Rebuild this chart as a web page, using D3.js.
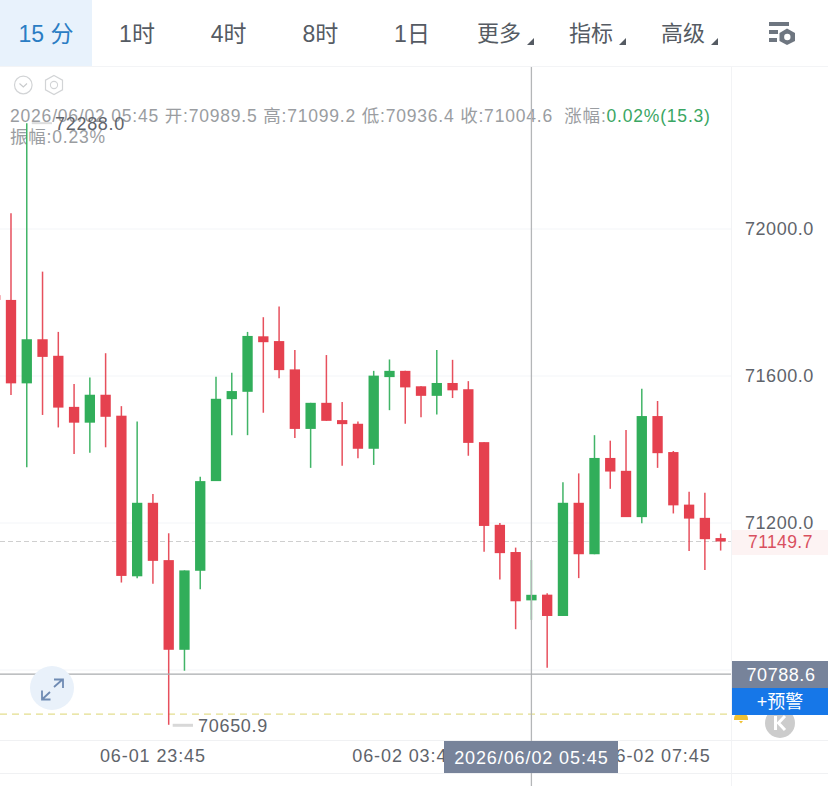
<!DOCTYPE html>
<html><head><meta charset="utf-8">
<script src="https://cdn.jsdelivr.net/npm/d3@7/dist/d3.min.js"></script>
<style>html,body{margin:0;padding:0;background:#fff;overflow:hidden}svg{display:block}
text{font-family:"Liberation Sans","Noto Sans CJK SC",sans-serif}</style></head>
<body><div id="chart"></div>
<script>
const times=["21:15","21:30","21:45","22:00","22:15","22:30","22:45","23:00","23:15","23:30","23:45","00:00","00:15","00:30","00:45","01:00","01:15","01:30","01:45","02:00","02:15","02:30","02:45","03:00","03:15","03:30","03:45","04:00","04:15","04:30","04:45","05:00","05:15","05:30","05:45","06:00","06:15","06:30","06:45","07:00","07:15","07:30","07:45","08:00","08:15","08:30","08:45"];
const opens=[71820,71807,71580,71700,71655,71516,71473,71549,71492,71055,71255,71099,70855,71070,71314,71537,71557,71708,71695,71618,71456,71527,71480,71470,71402,71597,71614,71572,71546,71581,71564,71420,71195,71121,70989.5,71005,70947,71255,71115,71377,71342,71216,71491,71393,71250,71214,71159];
const highs=[71830,72043,72288,71884,71720,71578,71596,71662,71518,71476,71279,71172,71071,71326,71598,71609,71720,71760,71789,71671,71527,71657,71529,71476,71614,71645,71614,71572,71671,71644,71586,71420,71200,71133,71099.2,71009,71311,71335,71439,71424,71453,71565,71532,71396,71285,71282,71171];
const lows=[71800,71548,71352,71494,71460,71388,71391,71406,71038,71050,71035,70650.9,70798,71020,71314,71439,71439,71500,71594,71431,71350,71478,71356,71376,71358,71507,71470,71488,71495,71540,71383,71122,71046,70911,70936.4,70806,70947,71050,71115,71293,71216,71199,71350,71226,71124,71072,71125];
const closes=[71807,71580,71700,71652,71514,71473,71549,71489,71056,71255,71097,70855,71071,71314,71538,71559,71709,71692,71616,71456,71527,71478,71469,71402,71601,71614,71569,71546,71581,71561,71418,71192,71118,70987,71004.6,70947,71255,71115,71377,71340,71216,71491,71390,71248,71212,71156,71149.7];
const yTicks=[72000,71600,71200,70800];
const xTickTimes=["23:45","03:45","07:45"];
const xTickLabels=["06-01 23:45","06-02 03:45","06-02 07:45"];
const tabs=["1时","4时","8时","1日"];
const menus=["更多","指标","高级"];
const lastPrice=71149.7, crossPrice=70788.6, alertPrice=70680, crossTime="05:45";
const maxPrice=72288.0, minPrice=70650.9, maxTime="21:45", minTime="00:00";

const W=828,H=786;
const RED="#e5414f",GREEN="#31ae5a",SLATE="#77839a",FONT_T="#555b63";
const svg=d3.select("#chart").append("svg").attr("width",W).attr("height",H);
const x=d3.scaleBand().domain(times).range([-12.66,728.53]).paddingInner(0.345).paddingOuter(0.1725);
const y=d3.scaleLinear().domain([70800,72000]).range([670,229]);
const cx=t=>x(t)+x.bandwidth()/2;
const rows=times.map((t,i)=>({t,o:opens[i],h:highs[i],l:lows[i],c:closes[i]}));

// header
svg.append("rect").attr("x",0).attr("y",0).attr("width",92).attr("height",66).attr("fill","#e8f2fc");
svg.append("line").attr("x1",0).attr("x2",W).attr("y1",66.5).attr("y2",66.5).attr("stroke","#f3f4f6");
svg.append("text").attr("x",46).attr("y",41.5).attr("text-anchor","middle").attr("font-size",23).attr("fill","#2a7dc4").text("15 分");
const tabX=d3.scalePoint().domain(tabs).range([137,412]);
svg.selectAll(".tab").data(tabs).join("text").attr("class","tab").attr("x",d=>tabX(d)).attr("y",41.5).attr("text-anchor","middle").attr("font-size",23).attr("fill",FONT_T).text(d=>d);
const menuX=d3.scalePoint().domain(menus).range([500,684]);
svg.selectAll(".menu").data(menus).join("text").attr("class","menu").attr("x",d=>menuX(d)-1).attr("y",41).attr("text-anchor","middle").attr("font-size",22).attr("fill",FONT_T).text(d=>d);
svg.selectAll(".tri").data(menus).join("path").attr("class","tri").attr("fill",FONT_T)
 .attr("d",d=>{const a=menuX(d)+34,b=45;return `M${a-7} ${b} L${a} ${b} L${a} ${b-7} Z`;});
// settings icon
const g0=svg.append("g").attr("fill","#6e7680");
g0.append("rect").attr("x",769).attr("y",22).attr("width",20).attr("height",4);
g0.append("rect").attr("x",769).attr("y",30).attr("width",9).attr("height",4);
g0.append("rect").attr("x",769).attr("y",38).attr("width",8).attr("height",4);
svg.append("path").attr("d","M787 28.5 L795 33 L795 41 L787 45 L779.5 41 L779.5 33 Z").attr("fill","#6e7680");
svg.append("circle").attr("cx",787.3).attr("cy",37).attr("r",3.2).attr("fill","#fff");
// small icons
svg.append("circle").attr("cx",23.3).attr("cy",85).attr("r",8.8).attr("fill","none").attr("stroke","#d2d4d6").attr("stroke-width",1.2);
svg.append("path").attr("d","M19.5 83.5 L23.3 87 L27 83.5").attr("fill","none").attr("stroke","#c8cacc").attr("stroke-width",1.1);
svg.append("path").attr("d","M54 75.5 L62.5 80.2 L62.5 89.8 L54 94.5 L45.5 89.8 L45.5 80.2 Z").attr("fill","none").attr("stroke","#d2d4d6").attr("stroke-width",1.2);
svg.append("circle").attr("cx",54).attr("cy",85).attr("r",3.6).attr("fill","none").attr("stroke","#d2d4d6").attr("stroke-width",1.1);

// axis frame
svg.append("line").attr("x1",731.5).attr("x2",731.5).attr("y1",67).attr("y2",H).attr("stroke","#f2f3f5");
svg.append("line").attr("x1",0).attr("x2",W).attr("y1",740.5).attr("y2",740.5).attr("stroke","#f0f1f3");
svg.append("line").attr("x1",0).attr("x2",W).attr("y1",773.5).attr("y2",773.5).attr("stroke","#f0f1f3");

// y axis via d3
const yAxis=d3.axisRight(y).tickValues(yTicks).tickSize(0).tickPadding(14).tickFormat(d3.format(".1f"));
const ya=svg.append("g").attr("transform","translate(731,0)").call(yAxis);
ya.select(".domain").remove();
ya.selectAll("text").attr("font-size",18).attr("letter-spacing",0.55).attr("fill","#5f646b").style("font-family",'"Liberation Sans"');
// grid
svg.append("g").selectAll("line").data(yTicks).join("line").attr("x1",0).attr("x2",731).attr("y1",d=>y(d)).attr("y2",d=>y(d)).attr("stroke","#f3f5f8");

// last-price dashed line
svg.append("line").attr("x1",0).attr("x2",731).attr("y1",y(lastPrice)).attr("y2",y(lastPrice)).attr("stroke","#cfcfcf").attr("stroke-dasharray","5 3");
// alert dashed
svg.append("line").attr("x1",0).attr("x2",731).attr("y1",y(alertPrice)).attr("y2",y(alertPrice)).attr("stroke","#e4de8e").attr("stroke-width",1.3).attr("stroke-dasharray","7 5");

// info text
const info=svg.append("text").attr("x",10).attr("y",122).attr("font-size",17.5).attr("letter-spacing",0.8).attr("fill","#9a9da1").attr("xml:space","preserve").style("white-space","pre");
info.append("tspan").text("2026/06/02 05:45 开:70989.5 高:71099.2 低:70936.4 收:71004.6  涨幅:");
info.append("tspan").attr("fill","#3aa663").text("0.02%(15.3)");
svg.append("text").attr("x",10).attr("y",143).attr("font-size",17.5).attr("letter-spacing",0.8).attr("fill","#9a9da1").text("振幅:0.23%");

// candles
const g=svg.append("g");
const up=d=>d.c>=d.o;
g.selectAll(".wick").data(rows).join("line").attr("class","wick")
 .attr("x1",d=>cx(d.t)).attr("x2",d=>cx(d.t)).attr("y1",d=>y(d.h)).attr("y2",d=>y(d.l))
 .attr("stroke",d=>up(d)?GREEN:RED).attr("stroke-width",1.5).attr("stroke-opacity",.92);
g.selectAll(".body").data(rows).join("rect").attr("class","body")
 .attr("x",d=>x(d.t)).attr("width",x.bandwidth())
 .attr("y",d=>y(Math.max(d.o,d.c))).attr("height",d=>Math.max(1,Math.abs(y(d.o)-y(d.c))))
 .attr("fill",d=>up(d)?GREEN:RED);

// crosshair
svg.append("line").attr("x1",cx(crossTime)).attr("x2",cx(crossTime)).attr("y1",67).attr("y2",H).attr("stroke","#b4b6b8").attr("stroke-width",1.3);
svg.append("line").attr("x1",0).attr("x2",731).attr("y1",y(crossPrice)).attr("y2",y(crossPrice)).attr("stroke","#a9abae").attr("stroke-width",1.2);

// max / min labels
svg.append("line").attr("x1",cx(maxTime)+5).attr("x2",52).attr("y1",y(maxPrice)).attr("y2",y(maxPrice)).attr("stroke","#dcdcdc").attr("stroke-width",2);
svg.append("text").attr("x",55).attr("y",y(maxPrice)+6.5).attr("font-size",18).attr("letter-spacing",0.7).attr("fill","#5f646b").text(d3.format(".1f")(maxPrice));
svg.append("line").attr("x1",cx(minTime)+4).attr("x2",193).attr("y1",y(minPrice)+.5).attr("y2",y(minPrice)+.5).attr("stroke","#d8d8d8").attr("stroke-width",3);
svg.append("text").attr("x",198).attr("y",y(minPrice)+7).attr("font-size",18).attr("letter-spacing",0.7).attr("fill","#5f646b").text(d3.format(".1f")(minPrice));

// expand button
svg.append("circle").attr("cx",52).attr("cy",688).attr("r",22).attr("fill","#e9f1fa");
svg.append("path").attr("d","M54 687 L62.5 679.5 M54 679.5 L63 679.5 L63 688 M42 699.5 L50 692 M42 690.5 L42 699.5 L50.5 699.5").attr("fill","none").attr("stroke","#6f8bb3").attr("stroke-width",1.8);

// last price tag
svg.append("rect").attr("x",732).attr("y",530).attr("width",96).attr("height",25).attr("fill","#fdf3f3");
svg.append("text").attr("x",748).attr("y",y(lastPrice)+6.5).attr("font-size",17.5).attr("letter-spacing",0.4).attr("fill","#d9505f").text(d3.format(".1f")(lastPrice));

// bell + K button
svg.append("circle").attr("cx",780).attr("cy",723).attr("r",15).attr("fill","#cccccc");
svg.append("path").attr("d","M775.5 716 L775.5 730 M785 716 L778.5 723 L785 730").attr("fill","none").attr("stroke","#fff").attr("stroke-width",3);
svg.append("path").attr("d","M734 720 Q734 715 736 715 L746 715 Q748 715 748 720 Z M739 721 L743 721 L741 723.5 Z").attr("fill","#efc132");

// cross price + alert box
svg.append("rect").attr("x",732).attr("y",661).attr("width",96).attr("height",27).attr("fill",SLATE);
svg.append("text").attr("x",781).attr("y",y(crossPrice)+7).attr("text-anchor","middle").attr("font-size",18).attr("letter-spacing",0.55).attr("fill","#fff").text(d3.format(".1f")(crossPrice));
svg.append("rect").attr("x",732).attr("y",688).attr("width",96).attr("height",27).attr("fill","#1677e8");
svg.append("text").attr("x",780).attr("y",708).attr("text-anchor","middle").attr("font-size",18).attr("fill","#fff").text("+预警");

// x axis labels via d3
const xAxis=d3.axisBottom(x).tickValues(xTickTimes).tickSize(0).tickPadding(0).tickFormat((d,i)=>xTickLabels[i]);
const xa=svg.append("g").attr("transform","translate(0,749)").call(xAxis);
xa.select(".domain").remove();
xa.selectAll("text").attr("font-size",18).attr("letter-spacing",0.9).attr("fill","#5f646b").style("font-family",'"Liberation Sans"');

// date tag
svg.append("rect").attr("x",444).attr("y",741).attr("width",174).attr("height",32).attr("fill",SLATE);
svg.append("text").attr("x",cx(crossTime)).attr("y",764).attr("text-anchor","middle").attr("font-size",18).attr("letter-spacing",0.9).attr("fill","#fff").text("2026/06/02 05:45");
</script></body></html>
